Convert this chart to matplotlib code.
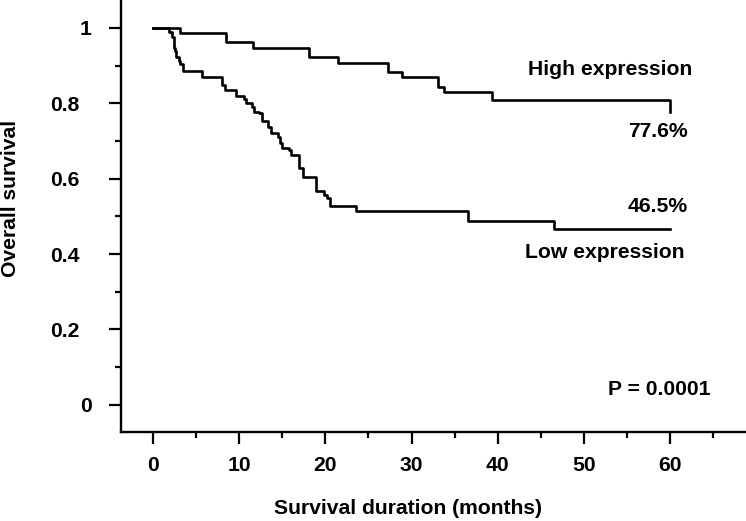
import matplotlib
matplotlib.use('Agg')
import matplotlib.pyplot as plt
from matplotlib.ticker import MultipleLocator, FixedLocator

plt.rcParams['font.family'] = ['Liberation Sans', 'DejaVu Sans']
plt.rcParams['font.weight'] = 'bold'

# Kaplan-Meier steps (months, survival after each drop)
high_t = [0, 3.1, 8.5, 11.6, 18.1, 21.5, 27.3, 28.9, 33.1, 33.8, 39.3, 60]
high_s = [1.0, 0.986, 0.962, 0.947, 0.923, 0.908, 0.883, 0.871, 0.844, 0.831, 0.808, 0.776]

low_t = [0, 1.9, 2.2, 2.4, 2.6, 2.7, 3.0, 3.2, 3.5, 5.7, 8.0, 8.4, 9.6, 10.6, 10.8,
         11.5, 11.7, 12.3, 12.6, 13.4, 13.7, 14.5, 14.7, 15.0, 15.8, 16.0, 17.0,
         17.4, 18.9, 19.9, 20.2, 20.5, 23.6, 36.6, 46.5, 60]
low_s = [1.0, 0.990, 0.977, 0.946, 0.940, 0.924, 0.913, 0.904, 0.886, 0.869, 0.849,
         0.834, 0.820, 0.811, 0.800, 0.791, 0.778, 0.774, 0.752, 0.738, 0.722, 0.710,
         0.694, 0.681, 0.675, 0.663, 0.628, 0.604, 0.566, 0.557, 0.548, 0.528, 0.513,
         0.488, 0.466, 0.466]

x_ticks = [0, 10, 20, 30, 40, 50, 60]
y_ticks = [0, 0.2, 0.4, 0.6, 0.8, 1]
y_labels = ['0', '0.2', '0.4', '0.6', '0.8', '1']

FS = 15.2

fig = plt.figure(figsize=(7.46, 5.21), dpi=100)
ax = fig.add_axes([121/746, 1 - 432/521, 625/746, 432/521])

ax.step(high_t, high_s, where='post', color='black', lw=1.9)
ax.step(low_t, low_s, where='post', color='black', lw=1.9)

ax.set_xlim(-3.7, 68.8)
ax.set_ylim(-0.072, 1.074)

ax.spines['top'].set_visible(False)
ax.spines['right'].set_visible(False)
for s in ['left', 'bottom']:
    ax.spines[s].set_linewidth(1.7)

ax.xaxis.set_major_locator(FixedLocator(x_ticks))
ax.xaxis.set_minor_locator(MultipleLocator(5))
ax.yaxis.set_major_locator(FixedLocator(y_ticks))
ax.yaxis.set_minor_locator(MultipleLocator(0.1))
ax.set_xticklabels([str(v) for v in x_ticks], fontsize=FS, fontweight='bold')
ax.set_yticklabels(y_labels, fontsize=FS, fontweight='bold')

ax.tick_params(which='major', direction='out', length=8.5, width=1.6, color='black')
ax.tick_params(which='minor', direction='out', length=4.3, width=1.6, color='black')
ax.tick_params(axis='x', which='major', pad=8.5)

# integers sit closer to the axis than decimals
for tick, lab in zip(ax.yaxis.get_major_ticks(), y_labels):
    tick.set_pad(12.5 if '.' not in lab else 21.6)

ax.set_xlabel('Survival duration (months)', fontsize=FS, fontweight='bold', va='center')
ax.xaxis.set_label_coords(0.459, -0.176)
ax.set_ylabel('Overall survival', fontsize=FS, fontweight='bold', va='center')
ax.yaxis.set_label_coords(-0.176, 0.54)

ax.text(62.6, 0.889, 'High expression', ha='right', va='center', fontsize=FS, fontweight='bold')
ax.text(62.0, 0.725, '77.6%', ha='right', va='center', fontsize=FS, fontweight='bold')
ax.text(62.0, 0.526, '46.5%', ha='right', va='center', fontsize=FS, fontweight='bold')
ax.text(61.7, 0.403, 'Low expression', ha='right', va='center', fontsize=FS, fontweight='bold')
ax.text(64.7, 0.040, 'P = 0.0001', ha='right', va='center', fontsize=FS, fontweight='bold')

fig.savefig('out.png', dpi=100)
